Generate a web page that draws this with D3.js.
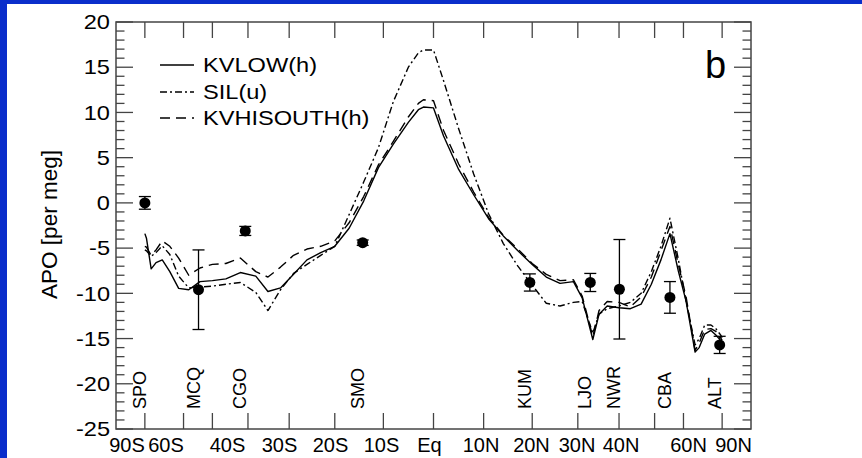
<!DOCTYPE html>
<html><head><meta charset="utf-8">
<script src="https://cdn.jsdelivr.net/npm/d3@7"></script>
<style>
html,body{margin:0;padding:0;background:#fff;}
svg{display:block;}
text{font-family:"Liberation Sans", Arial, Helvetica, sans-serif; fill:#000;}
</style></head><body>
<svg id="c" width="862" height="458"></svg>
<script>
// ---- data ----
const lat = [-90,-84,-78,-74,-70,-66,-62,-58,-54,-50,-46,-42,-38,-35,-32,-29,-26,-23,-20,-17,-14,-11,-8,-5,-3,-2,0,2,5,8,11,14,17,20,23,26,29,31,33.5,35,37,40,43,46,49,52,55,58,61,65,67,70,74,78,84,90];
const kvlow = [-3.4,-3.9,-7.3,-6.6,-6.3,-7.6,-9.45,-9.6,-8.7,-8.6,-8.4,-7.7,-8.1,-9.8,-9.4,-7.9,-6.3,-5.5,-4.8,-2.8,0.2,3.9,6.5,8.9,10.3,10.6,10.5,7.4,3.7,0.9,-1.75,-3.65,-5.3,-6.8,-8.2,-8.9,-8.7,-10.5,-15.1,-12.3,-11.4,-11.6,-11.7,-11.2,-9.0,-6.3,-3.4,-7.5,-10.8,-16.5,-16.0,-14.5,-14.1,-14.6,-15.2,-15.5];
const sil = [-5.2,-5.3,-5.9,-5.5,-4.75,-5.7,-8.1,-9.4,-9.3,-9.2,-9.0,-8.8,-9.9,-11.9,-9.6,-7.8,-6.8,-5.8,-4.8,-1.3,2.3,6.1,11.2,15.0,16.6,16.9,16.9,13.5,8.2,3.2,-1.2,-4.5,-7.0,-9.1,-11.1,-11.4,-11.0,-10.9,-14.4,-12.3,-11.7,-11.4,-11.0,-10.0,-7.6,-4.8,-1.7,-6.2,-10.8,-15.7,-15.0,-13.5,-13.5,-13.9,-14.6,-14.9];
const kvhisouth = [-4.8,-4.9,-5.8,-5.2,-4.2,-4.8,-6.1,-8.0,-7.2,-6.8,-6.7,-6.1,-7.6,-8.2,-7.1,-5.8,-5.1,-4.8,-4.2,-2.2,0.7,4.2,6.8,9.5,11.0,11.4,11.3,8.0,4.3,1.2,-1.6,-3.6,-5.1,-6.7,-7.9,-8.6,-8.5,-10.3,-14.8,-11.9,-10.9,-11.0,-11.5,-10.4,-8.2,-5.3,-2.6,-6.8,-10.3,-16.3,-15.5,-14.0,-13.9,-14.2,-14.9,-15.2];

const stations = ["SPO","MCQ","CGO","SMO","KUM","LJO","NWR","CBA","ALT"];
const stationLat = [-90,-54.5,-40.7,-14.2,19.5,32.9,40.1,55.0,82.5];
const stationAPO = [0,-9.6,-3.1,-4.4,-8.8,-8.8,-9.55,-10.45,-15.7];
const stationErr = [0.7,4.4,0.5,0.3,0.95,1.0,5.5,1.75,0.95];

const yTickValues = [-25,-20,-15,-10,-5,0,5,10,15,20];
const xTickLat = [-90,-60,-50,-40,-30,-20,-10,0,10,20,30,40,50,60,90];
const xLabels = ["90S","60S","40S","30S","20S","10S","Eq","10N","20N","30N","40N","60N","90N"];
const xLabelPos = [-1.0619,-0.9268,-0.7137,-0.5335,-0.3568,-0.1802,-0.0139,0.1646,0.3395,0.4972,0.6496,0.8835,1.0394]; // in sin(latitude) units
const seriesNames = ["KVLOW(h)","SIL(u)","KVHISOUTH(h)"];
const yTitle = "APO [per meg]";
const panelLabel = "b";

// ---- layout ----
const svg = d3.select("#c");
const L = 116, R = 751, T = 22, B = 429;
const x = d3.scaleLinear().domain([-1.1,1.1]).range([L,R]);
const y = d3.scaleLinear().domain([-25,20]).range([B,T]);
const sx = d => x(Math.sin(d*Math.PI/180));
const axisColor = "#444";
const STRETCH = 1.18;

// blue frame
svg.append("rect").attr("x",0).attr("y",0).attr("width",862).attr("height",458).attr("fill","#fff");
svg.append("rect").attr("x",0).attr("y",0).attr("width",862).attr("height",4).attr("fill","#0a2ecb");
svg.append("rect").attr("x",0).attr("y",0).attr("width",7).attr("height",458).attr("fill","#0a2ecb");

// box
svg.append("rect").attr("x",L).attr("y",T).attr("width",R-L).attr("height",B-T)
  .attr("fill","none").attr("stroke",axisColor).attr("stroke-width",1.5);

// y ticks (left and right), minor every 1, major every 5
const minor = d3.range(-25,21,1);
const gL = svg.append("g");
minor.forEach(v=>{
  const len = (v%5===0)?17:8.5;
  gL.append("line").attr("x1",L).attr("x2",L+len).attr("y1",y(v)).attr("y2",y(v)).attr("stroke",axisColor).attr("stroke-width",1.3);
  gL.append("line").attr("x1",R).attr("x2",R-len).attr("y1",y(v)).attr("y2",y(v)).attr("stroke",axisColor).attr("stroke-width",1.3);
});
svg.append("g").selectAll("text").data(yTickValues).join("text")
  .attr("transform",d=>`translate(${L-6},${y(d)}) scale(${STRETCH},1)`)
  .attr("dy","0.36em").attr("text-anchor","end").attr("font-size",20).text(d=>d);

// x ticks top and bottom
const gx = svg.append("g");
xTickLat.forEach(d=>{
  gx.append("line").attr("x1",sx(d)).attr("x2",sx(d)).attr("y1",B).attr("y2",B-16).attr("stroke",axisColor).attr("stroke-width",1.3);
  gx.append("line").attr("x1",sx(d)).attr("x2",sx(d)).attr("y1",T).attr("y2",T+16).attr("stroke",axisColor).attr("stroke-width",1.3);
});
svg.append("g").selectAll("text").data(xLabels).join("text")
  .attr("x",(d,i)=>x(xLabelPos[i])).attr("y",452)
  .attr("text-anchor","middle").attr("font-size",20).text(d=>d);

// y title
svg.append("text").attr("transform",`translate(57,${(T+B)/2-1}) rotate(-90)`)
  .attr("text-anchor","middle").attr("font-size",22.5).text(yTitle);

// lines
const line = vals => d3.line().x((d,i)=>sx(lat[i])).y(d=>y(d))(vals);
const styles = [
  {vals:kvlow, dash:null},
  {vals:sil, dash:"7,3,2,3"},
  {vals:kvhisouth, dash:"10,6"}
];
styles.forEach(s=>{
  svg.append("path").attr("d",line(s.vals)).attr("fill","none").attr("stroke","#000")
    .attr("stroke-width",1.4).attr("stroke-dasharray",s.dash).attr("stroke-linejoin","round");
});

// legend
const legY = [65,92,118];
styles.forEach((s,i)=>{
  svg.append("line").attr("x1",160).attr("x2",194).attr("y1",legY[i]).attr("y2",legY[i])
    .attr("stroke","#000").attr("stroke-width",1.4).attr("stroke-dasharray",s.dash);
  svg.append("text").attr("transform",`translate(203,${legY[i]}) scale(${STRETCH},1)`)
    .attr("dy","0.36em").attr("font-size",20).text(seriesNames[i]);
});

// panel label
svg.append("text").attr("x",705).attr("y",78).attr("font-size",38).text(panelLabel);

// station observations
const gs = svg.append("g");
stations.forEach((s,i)=>{
  const cx = sx(stationLat[i]);
  const y1 = y(stationAPO[i]+stationErr[i]), y2 = y(stationAPO[i]-stationErr[i]);
  gs.append("line").attr("x1",cx).attr("x2",cx).attr("y1",y1).attr("y2",y2).attr("stroke","#000").attr("stroke-width",1.3);
  gs.append("line").attr("x1",cx-6).attr("x2",cx+6).attr("y1",y1).attr("y2",y1).attr("stroke","#000").attr("stroke-width",1.3);
  gs.append("line").attr("x1",cx-6).attr("x2",cx+6).attr("y1",y2).attr("y2",y2).attr("stroke","#000").attr("stroke-width",1.3);
  gs.append("circle").attr("cx",cx).attr("cy",y(stationAPO[i])).attr("r",5.5).attr("fill","#000");
  gs.append("text").attr("transform",`translate(${cx+1},409) rotate(-90)`)
    .attr("font-size",18).text(s);
});
</script>
</body></html>
